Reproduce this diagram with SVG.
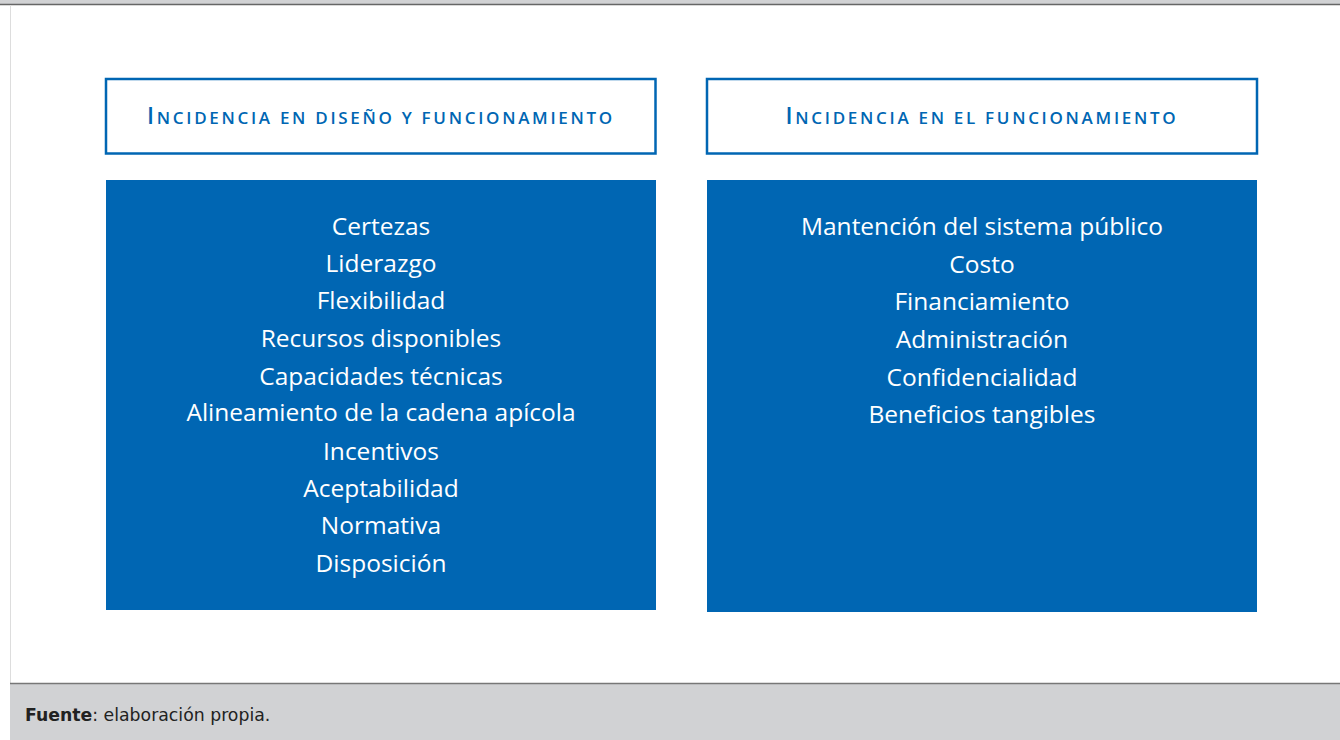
<svg xmlns="http://www.w3.org/2000/svg" width="1340" height="740" viewBox="0 0 1340 740">
<style>
.hdr{fill:#fff;stroke:#0066b3;stroke-width:2.5}
.blk{fill:#0066b3}
.ht{font-family:"Open Sans","Noto Sans",sans-serif;font-weight:600;fill:#0066b3;text-anchor:middle;font-size:17px;letter-spacing:2.7px}
.big{font-size:23px}
.it{font-family:"Open Sans","Noto Sans",sans-serif;font-weight:500;fill:#fff;text-anchor:middle;font-size:24.5px}
.ft{font-family:"DejaVu Sans","Noto Sans",sans-serif;fill:#222;font-size:17.3px}
</style>
<rect x="0" y="0" width="1340" height="740" fill="#fff"/>
<rect x="0" y="0" width="1340" height="4" fill="#d1d2d4"/>
<line x1="0" y1="4.5" x2="1340" y2="4.5" stroke="#666" stroke-width="1.5"/>
<line x1="10.5" y1="5" x2="10.5" y2="684" stroke="#ddd" stroke-width="1"/>
<rect x="10" y="684" width="1330" height="56" fill="#d1d2d4"/>
<line x1="10" y1="683.5" x2="1340" y2="683.5" stroke="#777" stroke-width="1.5"/>
<g id="header-left">
<rect class="hdr" x="106" y="79" width="549.5" height="74.5"/>
<text class="ht" x="381" y="124"><tspan class="big">I</tspan>NCIDENCIA EN DISEÑO Y FUNCIONAMIENTO</text>
</g>
<g id="header-right">
<rect class="hdr" x="707" y="79" width="550" height="74.5"/>
<text class="ht" x="982" y="124"><tspan class="big">I</tspan>NCIDENCIA EN EL FUNCIONAMIENTO</text>
</g>
<g id="block-left">
<rect class="blk" x="106" y="180" width="550" height="430"/>
<text class="it" x="381" y="235">Certezas</text>
<text class="it" x="381" y="272">Liderazgo</text>
<text class="it" x="381" y="309">Flexibilidad</text>
<text class="it" x="381" y="347">Recursos disponibles</text>
<text class="it" x="381" y="385">Capacidades técnicas</text>
<text class="it" x="381" y="421">Alineamiento de la cadena apícola</text>
<text class="it" x="381" y="460">Incentivos</text>
<text class="it" x="381" y="497">Aceptabilidad</text>
<text class="it" x="381" y="534">Normativa</text>
<text class="it" x="381" y="572">Disposición</text>
</g>
<g id="block-right">
<rect class="blk" x="707" y="180" width="550" height="432"/>
<text class="it" x="982" y="235">Mantención del sistema público</text>
<text class="it" x="982" y="273">Costo</text>
<text class="it" x="982" y="310">Financiamiento</text>
<text class="it" x="982" y="348">Administración</text>
<text class="it" x="982" y="386">Confidencialidad</text>
<text class="it" x="982" y="423">Beneficios tangibles</text>
</g>
<g id="connectors"></g>
<text class="ft" x="25" y="721"><tspan font-weight="bold">Fuente</tspan>: elaboración propia.</text>
</svg>
